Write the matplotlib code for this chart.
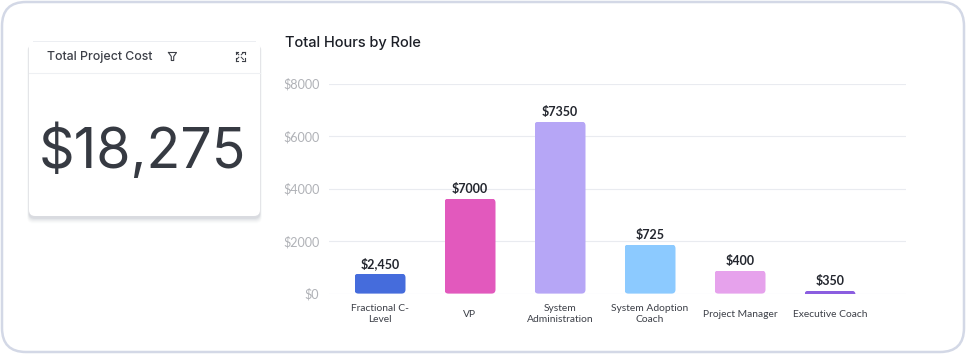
import numpy as np
import matplotlib
matplotlib.use('Agg')
import matplotlib.pyplot as plt
from matplotlib.patches import FancyBboxPatch, Rectangle

roles = ['Fractional C-\nLevel', 'VP', 'System\nAdministration',
         'System Adoption\nCoach', 'Project Manager', 'Executive Coach']
bar_values = [760, 3620, 6550, 1870, 880, 110]
bar_labels = ['$2,450', '$7000', '$7350', '$725', '$400', '$350']
bar_colors = ['#456cdc', '#e259bd', '#b6a6f6', '#8ccaff', '#e6a2ec', '#8b5ee0']
y_ticks = [0, 2000, 4000, 6000, 8000]
y_tick_labels = ['$0', '$2000', '$4000', '$6000', '$8000']
title = 'Total Hours by Role'
card_title = 'Total Project Cost'
card_value = '$18,275'

W, H = 966, 354
fig = plt.figure(figsize=(W/100, H/100), dpi=100, facecolor='white')

# page layer in pixel coordinates
bg = fig.add_axes([0, 0, 1, 1])
bg.set_xlim(0, W)
bg.set_ylim(H, 0)
bg.axis('off')

def rbox(x, y, w, h, r, **kw):
    p = FancyBboxPatch((x+r, y+r), w-2*r, h-2*r, boxstyle='round,pad=%g,rounding_size=%g' % (r, r), **kw)
    bg.add_patch(p)
    return p

rbox(2, 2, 962, 350, 24, fc='white', ec='#d3d8e6', lw=1.8)

# card shadow
for i, a in zip(range(6, 0, -1), [0.02, 0.03, 0.04, 0.05, 0.07, 0.09]):
    rbox(29-i*0.3, 43+i*0.4, 231+i*0.6, 175+i*0.5, 6, fc='#7a8095', ec='none', alpha=a)
rbox(29, 41, 231, 175, 6, fc='white', ec='none')
bg.plot([33, 255], [40.5, 40.5], color='#eceef2', lw=0.7)
bg.plot([29, 260], [73, 73], color='#eef0f3', lw=0.8)

bg.text(47, 57, card_title, fontsize=8.9, family='Inter', color='#3d4048', va='center', ha='left', fontweight='medium')
bg.text(142, 151, card_value, fontsize=40, family='Inter', color='#363a42', va='center', ha='center')

# filter icon
bg.plot([168.5, 176.5, 173.7, 173.7, 171.3, 171.3, 168.5], [52.5, 52.5, 56.5, 60.5, 60.5, 56.5, 52.5],
        color='#3d4048', lw=0.8)
# expand icon
for sx, sy in [(-1, -1), (1, -1), (-1, 1), (1, 1)]:
    cx, cy = 240+sx*4.5, 56+sy*4.5
    bg.plot([cx, cx-sx*2.5], [cy, cy], color='#3d4048', lw=0.8)
    bg.plot([cx, cx], [cy, cy-sy*2.5], color='#3d4048', lw=0.8)
    bg.plot([240+sx*1.2, 240+sx*3.5], [56+sy*1.2, 56+sy*3.5], color='#3d4048', lw=0.7)

bg.text(285, 42.5, title, fontsize=10.5, family='Inter', color='#1c1f27', va='center', ha='left', fontweight='medium')

# chart
ax = fig.add_axes([329/W, 1-293.6/H, (906-329)/W, 210/H])
ax.patch.set_alpha(0)
x = np.arange(len(roles))
bars = ax.bar(x, bar_values, width=51/90, color=bar_colors)
ax.set_xlim(-51/90, 526/90)
ax.set_ylim(0, 8000)

# swap the square bars for rounded ones, clipped at the baseline
aspect = (8000/210)/(1/90)
for b, c in zip(bars, bar_colors):
    b.set_visible(False)
    r = 4/90
    ry = r*aspect
    w, h = b.get_width(), b.get_height()
    p = FancyBboxPatch((b.get_x()+r, min(ry, h-ry)), w-2*r, max(h-2*ry, 0),
                       boxstyle='round,pad=%g,rounding_size=%g' % (r, r),
                       mutation_aspect=aspect, fc=c, ec='none', zorder=3)
    ax.add_patch(p)
    p.set_clip_path(Rectangle((b.get_x(), 0), w, h, transform=ax.transData))

for xi, v, lab in zip(x, bar_values, bar_labels):
    ax.annotate(lab, (xi, v), xytext=(0, 4), textcoords='offset pixels', ha='center', va='bottom',
                fontsize=9, family='Lato', fontweight='bold', color='#23262e')

ax.set_yticks(y_ticks, y_tick_labels)
ax.set_xticks(x, roles)
ax.yaxis.grid(True, color='#e9ebf0', lw=0.8)
ax.set_axisbelow(True)
for s in ax.spines.values():
    s.set_visible(False)
ax.tick_params(axis='both', length=0)
ax.tick_params(axis='y', pad=7, labelsize=9.1, labelcolor='#b0b2b7')
ax.tick_params(axis='x', pad=15, labelsize=7.4, labelcolor='#3d4048')
for t in ax.get_xticklabels():
    t.set_family('Lato')
    t.set_va('center')
    t.set_linespacing(1.3)
for t in ax.get_yticklabels():
    t.set_family('Lato')

fig.savefig('out.png', dpi=100, facecolor='white')
